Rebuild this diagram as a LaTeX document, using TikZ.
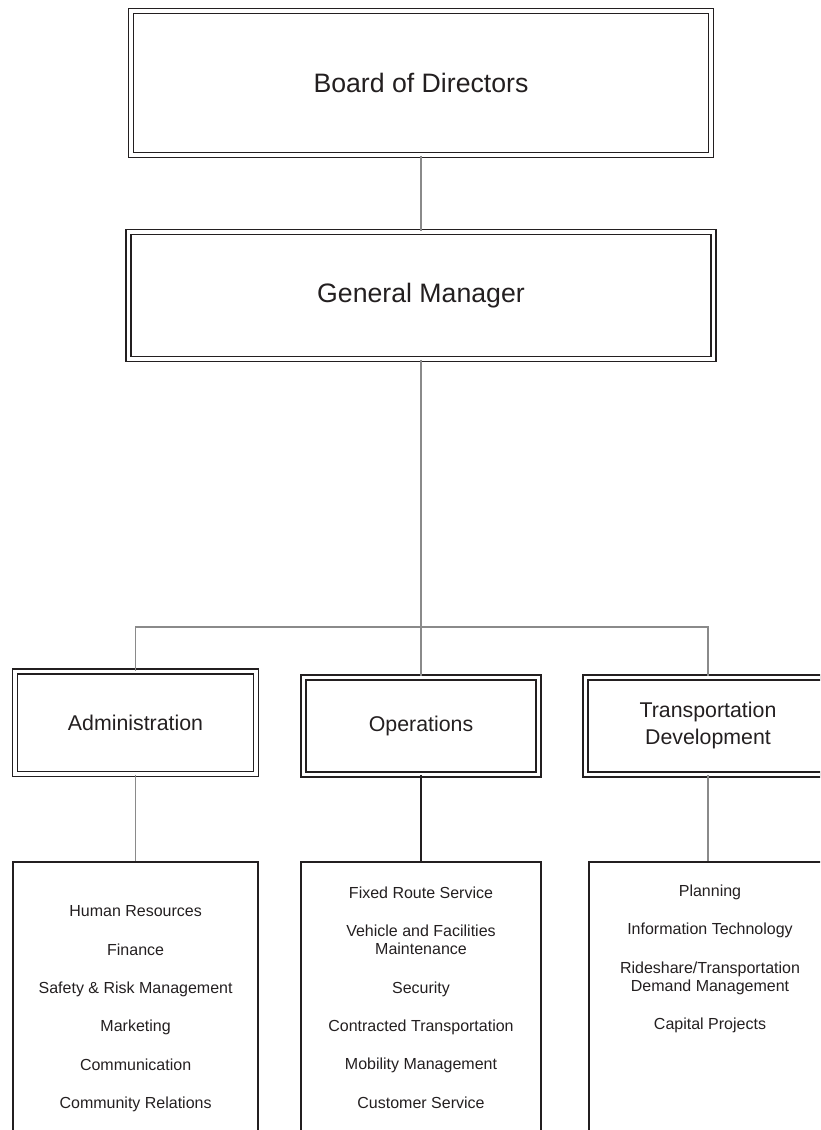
\documentclass[tikz,border=0pt]{standalone}
\usepackage{fontspec}
\setmainfont{Liberation Sans}
\usepackage{xcolor}
\definecolor{linecolor}{RGB}{35,31,32}
\definecolor{textcolor}{RGB}{35,31,32}
\definecolor{linkgray}{RGB}{138,138,138}

\begin{document}
\begin{tikzpicture}[
    x=0.75pt, y=-0.75pt,
    dbox/.style={rectangle, draw=linecolor, double, line width=1.45pt, double distance=2.3pt, text=textcolor, align=center, inner sep=0pt},
    head/.style={dbox, font=\fontsize{20}{24}\selectfont},
    dept/.style={dbox, minimum height=72.5pt, font=\fontsize{16}{20.25}\selectfont},
    listbox/.style={rectangle, draw=linecolor, line width=1.5pt, anchor=north, minimum height=300pt},
    items/.style={align=center, anchor=north, text=textcolor, font=\fontsize{12}{13.5}\selectfont},
    link/.style={draw=linkgray, line width=0.8pt},
    linkdark/.style={draw=linecolor, line width=1.4pt}
]
\useasboundingbox (0,0) rectangle (820,1130);
\clip (0,0) rectangle (820,1130);

% Top of the chart
\node[head, minimum width=435pt, minimum height=108pt] (board) at (421,83) {Board of Directors};
\node[head, minimum width=439pt, minimum height=95.25pt] (gm) at (421,295.5) {General Manager};

% Departments
\node[dept, minimum width=180.75pt, minimum height=76.9pt] (admin) at (135.5,722.75) {Administration};
\node[dept, minimum width=176.1pt] (ops) at (421,725.7) {Operations};
\node[dept, minimum width=183.75pt] (transdev) at (708,725.7) {Transportation\\Development};

% Department lists
\node[listbox, minimum width=184pt] (adminlist) at (135.6,861) {};
\node[listbox, minimum width=179.8pt] (opslist) at (421,861) {};
\node[listbox, minimum width=179pt] (transdevlist) at (708,861) {};

\node[items] (adminitems) at (135.6,901) {
    Human Resources\\[15.3pt]
    Finance\\[15.3pt]
    Safety \& Risk Management\\[15.3pt]
    Marketing\\[15.3pt]
    Communication\\[15.3pt]
    Community Relations
};
\node[items] (opsitems) at (421,882) {
    Fixed Route Service\\[15.3pt]
    Vehicle and Facilities\\
    Maintenance\\[15.3pt]
    Security\\[15.3pt]
    Contracted Transportation\\[15.3pt]
    Mobility Management\\[15.3pt]
    Customer Service
};
\node[items] (transdevitems) at (710,880) {
    Planning\\[15.3pt]
    Information Technology\\[15.3pt]
    Rideshare/Transportation\\
    Demand Management\\[15.3pt]
    Capital Projects
};

% Connectors
\coordinate (split) at (421,627);
\draw[link] (board.south) -- (gm.north);
\draw[link] (gm.south) -- (split);
\draw[link] (admin.north) |- (split) -| (transdev.north);
\draw[link] (split) -- (ops.north);

\draw[link] (admin.south) -- (admin.south |- adminlist.north);
\draw[linkdark] (ops.south) -- (ops.south |- opslist.north);
\draw[link] (transdev.south) -- (transdev.south |- transdevlist.north);

\end{tikzpicture}
\end{document}
